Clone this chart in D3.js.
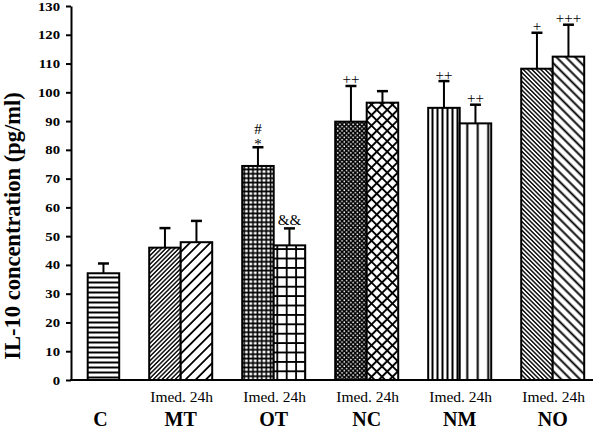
<!DOCTYPE html>
<html>
<head>
<meta charset="utf-8">
<script src="https://cdn.jsdelivr.net/npm/d3@7"></script>
<style>
  body { margin: 0; background: #fff; }
  svg { display: block; }
  text { font-family: "Liberation Serif", "Times New Roman", serif; fill: #000; }
</style>
</head>
<body>
<div id="chart"></div>
<script>
// ---- data ----
const groups = ["C", "MT", "OT", "NC", "NM", "NO"];
const subLabels = ["", "Imed. 24h", "Imed. 24h", "Imed. 24h", "Imed. 24h", "Imed. 24h"];
// "Imed." bars (null = no bar)
const imedMeans = [null, 46.0, 74.4, 89.8, 94.6, 108.2];
const imedSD    = [null, 6.8, 6.5, 12.4, 9.3, 12.5];
// "24h" bars (the control C bar sits in this slot)
const h24Means  = [37.1, 47.9, 46.8, 96.4, 89.2, 112.4];
const h24SD     = [3.4, 7.4, 5.9, 4.0, 6.5, 11.1];
const imedMarks = [[], [], ["#", "*"], ["++"], ["++"], ["+"]];
const h24Marks  = [[], [], ["&&"], [], ["++"], ["+++"]];
const imedPatterns = [null, "mtI", "otI", "ncI", "nmI", "noI"];
const h24Patterns  = ["cH", "mtH", "otH", "ncH", "nmH", "noH"];
const yTicks = d3.range(0, 131, 10);
const yTitle = "IL-10 concentration (pg/ml)";

// ---- layout ----
const W = 600, H = 431;
const svg = d3.select("#chart").append("svg").attr("width", W).attr("height", H);

const y = d3.scaleLinear().domain([0, 130]).range([380, 6]);
const x = d3.scaleBand().domain(groups).range([41.2, 599.2]).paddingInner(0).paddingOuter(0);
const barW = 31.5;

// ---- patterns ----
const defs = svg.append("defs");
function linePattern(id, period, sw, angle) {
  const p = defs.append("pattern").attr("id", id).attr("patternUnits", "userSpaceOnUse")
    .attr("width", period).attr("height", period)
    .attr("patternTransform", `rotate(${angle})`);
  p.append("rect").attr("width", period).attr("height", period).attr("fill", "#fff");
  p.append("line").attr("x1", period / 2).attr("x2", period / 2).attr("y1", -1).attr("y2", period + 1)
    .attr("stroke", "#000").attr("stroke-width", sw);
}
function gridPattern(id, period, sw, angle) {
  const p = defs.append("pattern").attr("id", id).attr("patternUnits", "userSpaceOnUse")
    .attr("width", period).attr("height", period)
    .attr("patternTransform", `rotate(${angle})`);
  p.append("rect").attr("width", period).attr("height", period).attr("fill", "#fff");
  p.append("path").attr("d", `M0,${period / 2}H${period}M${period / 2},0V${period}`)
    .attr("stroke", "#000").attr("stroke-width", sw).attr("fill", "none");
}
linePattern("cH", 5, 2, 90);       // horizontal lines
linePattern("mtI", 3.1, 1.4, 45);  // dense /
linePattern("mtH", 7.2, 1.8, 45);  // sparse /
gridPattern("otI", 4.4, 1.6, 0);   // small grid
gridPattern("otH", 9.4, 1.8, 0);   // large grid
// dense dotted crosshatch
(function () {
  const p = defs.append("pattern").attr("id", "ncI").attr("patternUnits", "userSpaceOnUse")
    .attr("width", 4.4).attr("height", 4.4);
  p.append("rect").attr("width", 4.4).attr("height", 4.4).attr("fill", "#000");
  p.append("circle").attr("cx", 1.1).attr("cy", 1.1).attr("r", 0.85).attr("fill", "#fff");
  p.append("circle").attr("cx", 3.3).attr("cy", 3.3).attr("r", 0.85).attr("fill", "#fff");
})();
gridPattern("ncH", 7.4, 2, 45);    // diamond crosshatch
linePattern("nmI", 5, 2, 0);       // dense vertical
linePattern("nmH", 10.5, 2, 0);    // sparse vertical
linePattern("noI", 3.1, 1.4, -45); // dense \
linePattern("noH", 6.6, 1.9, -45); // sparse \

// ---- axes ----
const sx = 1.18;
const yAxis = svg.append("g").attr("transform", "translate(71,0)")
  .call(d3.axisLeft(y).tickValues(yTicks).tickSize(5).tickSizeOuter(0).tickPadding(6));
yAxis.select(".domain").attr("stroke-width", 2);
yAxis.selectAll(".tick line").attr("stroke-width", 2);
yAxis.selectAll(".tick text").attr("font-family", "Liberation Serif").attr("font-weight", "bold")
  .attr("font-size", 12.5).attr("fill", "#000")
  .attr("x", -11 / sx).attr("transform", `scale(${sx},1)`);

svg.append("line").attr("x1", 70).attr("x2", 593).attr("y1", y(0)).attr("y2", y(0))
  .attr("stroke", "#000").attr("stroke-width", 2);

svg.append("text").attr("transform", `translate(20,226) rotate(-90)`)
  .attr("text-anchor", "middle").attr("font-weight", "bold").attr("font-size", 22.5).text(yTitle);

// ---- bars ----
const markOffset = { "#": -13, "*": 2, "+": -1.5, "++": -1.5, "+++": -1.5, "&&": -3 };
const barsG = svg.append("g");
function drawBar(xLeft, mean, sd, pat, marks) {
  const cx = xLeft + barW / 2;
  const top = y(mean + sd);
  barsG.append("line").attr("x1", cx).attr("x2", cx).attr("y1", y(mean)).attr("y2", top)
    .attr("stroke", "#000").attr("stroke-width", 2);
  barsG.append("line").attr("x1", cx - 5.5).attr("x2", cx + 5.5).attr("y1", top).attr("y2", top)
    .attr("stroke", "#000").attr("stroke-width", 2.5);
  barsG.append("rect").attr("x", xLeft).attr("y", y(mean)).attr("width", barW)
    .attr("height", y(0) - y(mean)).attr("fill", `url(#${pat})`)
    .attr("stroke", "#000").attr("stroke-width", 2);
  marks.forEach(m => {
    barsG.append("text").attr("x", cx).attr("y", top + markOffset[m])
      .attr("text-anchor", "middle").attr("font-size", 15).text(m);
  });
}
groups.forEach((g, i) => {
  const c = x(g) + x.bandwidth() / 2;
  if (imedMeans[i] != null) drawBar(c - barW, imedMeans[i], imedSD[i], imedPatterns[i], imedMarks[i]);
  drawBar(c, h24Means[i], h24SD[i], h24Patterns[i], h24Marks[i]);
});

// ---- x labels ----
groups.forEach((g, i) => {
  const c = x(g) + x.bandwidth() / 2;
  if (subLabels[i]) {
    svg.append("text").attr("x", c + 1).attr("y", 401.5).attr("text-anchor", "middle")
      .attr("font-size", 15.5).text(subLabels[i]);
  }
  const lx = imedMeans[i] == null ? c + barW / 2 - 3 : c;
  svg.append("text").attr("x", lx).attr("y", 426).attr("text-anchor", "middle")
    .attr("font-weight", "bold").attr("font-size", 20).text(g);
});
</script>
</body>
</html>
